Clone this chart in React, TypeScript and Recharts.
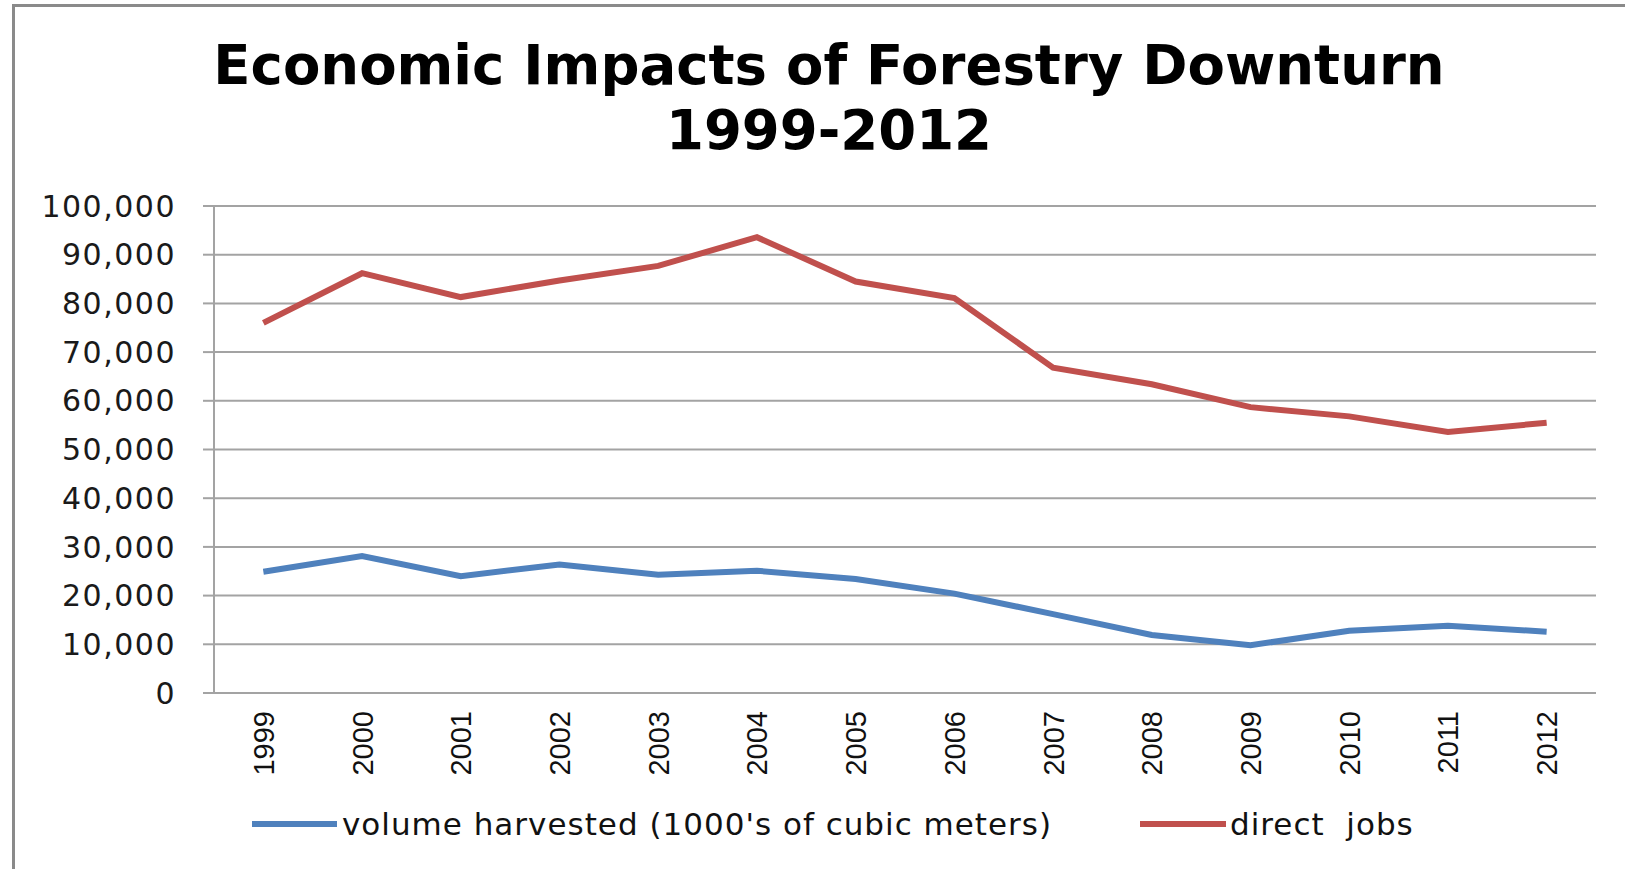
import React from 'react';
import { LineChart, Line, XAxis, YAxis, CartesianGrid } from 'recharts';

const years = ['1999', '2000', '2001', '2002', '2003', '2004', '2005', '2006', '2007', '2008', '2009', '2010', '2011', '2012'];
const volumeHarvested = [24900, 28100, 24000, 26400, 24300, 25100, 23400, 20400, 16200, 11900, 9800, 12800, 13800, 12600];
const directJobs = [76000, 86200, 81300, 84700, 87700, 93600, 84500, 81100, 66800, 63400, 58700, 56800, 53600, 55500];
const yTicks = [0, 10000, 20000, 30000, 40000, 50000, 60000, 70000, 80000, 90000, 100000];

const seriesNames = ['volume harvested (1000\'s of cubic meters)', 'direct  jobs'];
const BLUE = '#4f81bd';
const RED = '#c0504d';
const GRID = '#a3a3a3';
const FONT = '"DejaVu Sans", sans-serif';

const data = years.map((y, i) => ({ i, year: y, volume: volumeHarvested[i], jobs: directJobs[i] }));
const yearTicks = years.map((_, i) => i);
const edgeTicks = years.map((_, i) => i - 0.5).concat(years.length - 0.5);

function YearTick(props: any) {
  const { x, y, payload } = props;
  return (
    <g transform={`translate(${x},${y})`}>
      <text
        transform="rotate(-90)"
        textAnchor="end"
        dy="0.36em"
        fontFamily='"Liberation Sans", sans-serif'
        fontSize={29}
        fill="#111"
      >
        {years[payload.value]}
      </text>
    </g>
  );
}

export default function App() {
  return (
    <div style={{ position: 'absolute', left: 0, top: 0, width: 1625, height: 869, overflow: 'hidden', background: '#fff' }}>
      <div
        style={{
          position: 'absolute', left: 12, top: 4, width: 1700, height: 1000,
          borderTop: '3px solid #8a8a8a', borderLeft: '3px solid #8a8a8a',
        }}
      />
      <div
        style={{
          position: 'absolute', left: 0, top: 33, width: 1658, textAlign: 'center',
          fontFamily: FONT, fontWeight: 'bold', fontSize: 54.5, lineHeight: '65px', color: '#000',
        }}
      >
        Economic Impacts of Forestry Downturn<br />1999-2012
      </div>

      <div style={{ position: 'absolute', left: 0, top: 0 }}>
        <LineChart width={1625} height={869} data={data} margin={{ top: 206, right: 29, left: 0, bottom: 0 }}>
          <CartesianGrid vertical={false} stroke={GRID} strokeWidth={2} />
          <XAxis
            xAxisId="edge"
            dataKey="i"
            type="number"
            domain={[-0.5, years.length - 0.5]}
            ticks={edgeTicks}
            interval={0}
            tick={false}
            tickSize={11}
            height={12}
            stroke={GRID}
            strokeWidth={2}
            allowDataOverflow
          />
          <XAxis
            xAxisId="lbl"
            dataKey="i"
            type="number"
            domain={[-0.5, years.length - 0.5]}
            ticks={yearTicks}
            interval={0}
            axisLine={false}
            tickLine={false}
            tickMargin={0}
            height={164}
            tick={<YearTick />}
            allowDataOverflow
          />
          <YAxis
            domain={[0, 100000]}
            ticks={yTicks}
            interval={0}
            width={214}
            tickSize={11}
            tickMargin={27}
            stroke={GRID}
            strokeWidth={2}
            tickFormatter={(v: number) => v.toLocaleString('en-US')}
            tick={{ fontFamily: FONT, fontSize: 30, fill: '#1a1a1a', letterSpacing: 1.5 }}
          />
          <Line xAxisId="edge" type="linear" dataKey="volume" stroke={BLUE} strokeWidth={6} dot={false} isAnimationActive={false} />
          <Line xAxisId="edge" type="linear" dataKey="jobs" stroke={RED} strokeWidth={6} dot={false} isAnimationActive={false} />
        </LineChart>
      </div>

      <div style={{ position: 'absolute', left: 252, top: 806, display: 'flex', alignItems: 'center', fontFamily: FONT, fontSize: 31, letterSpacing: 1, color: '#111', whiteSpace: 'pre' }}>
        <span style={{ display: 'inline-block', width: 85, height: 6, background: BLUE, marginRight: 5 }} />
        <span>{seriesNames[0]}</span>
      </div>
      <div style={{ position: 'absolute', left: 1140, top: 806, display: 'flex', alignItems: 'center', fontFamily: FONT, fontSize: 31, letterSpacing: 1, color: '#111', whiteSpace: 'pre' }}>
        <span style={{ display: 'inline-block', width: 86, height: 6, background: RED, marginRight: 4 }} />
        <span>{seriesNames[1]}</span>
      </div>
    </div>
  );
}
